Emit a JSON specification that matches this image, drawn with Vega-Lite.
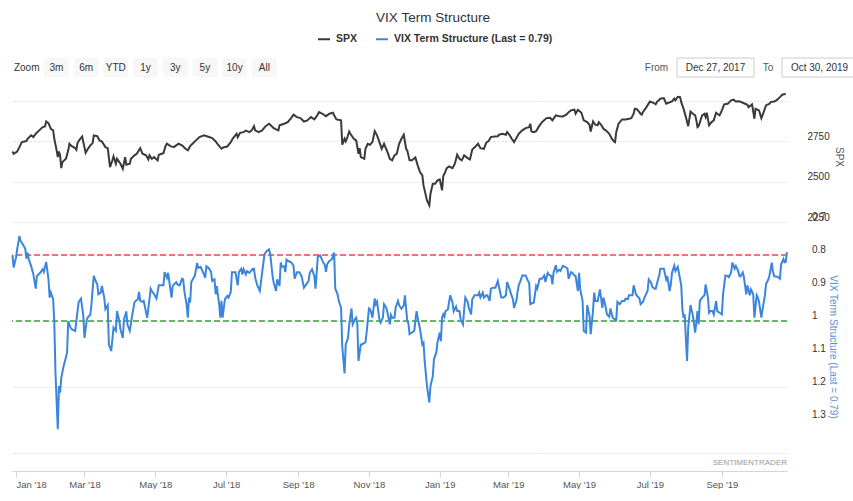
{
"$schema": "https://vega.github.io/schema/vega-lite/v6.json",
"background": "white",
"padding": {"left": 8, "top": 10, "right": 0, "bottom": 0},
"title": {"text": "VIX Term Structure", "fontSize": 13.5, "fontWeight": "normal", "color": "#333333", "anchor": "middle", "offset": 8, "font": "Liberation Sans"},
"config": {
  "font": "Liberation Sans",
  "view": {"stroke": null},
  "axisY": {"orient": "right", "domain": false, "ticks": false, "grid": true, "gridColor": "#dddddd", "gridDash": [2, 2], "labelPadding": 20, "labelAlign": "left", "labelBaseline": "middle", "labelOffset": -5, "labelFontSize": 10, "labelColor": "#333333", "labelOverlap": false, "titleFontSize": 10, "titleFontWeight": "normal", "titlePadding": 4}
},
"datasets": {
"btn": [{"t": "Zoom"}, {"t": "3m"}, {"t": "6m"}, {"t": "YTD"}, {"t": "1y"}, {"t": "3y"}, {"t": "5y"}, {"t": "10y"}, {"t": "All"}],
"vixticks": [{"y": 0.7, "l": "0.7"}, {"y": 0.8, "l": "0.8"}, {"y": 0.9, "l": "0.9"}, {"y": 1.0, "l": "1"}, {"y": 1.1, "l": "1.1"}, {"y": 1.2, "l": "1.2"}, {"y": 1.3, "l": "1.3"}],
"spx": [
{"d":"2017-12-29","v":2687},{"d":"2017-12-30","v":2673},{"d":"2018-01-02","v":2687},{"d":"2018-01-04","v":2714},{"d":"2018-01-06","v":2745},{"d":"2018-01-10","v":2752},{"d":"2018-01-11","v":2766},{"d":"2018-01-14","v":2787},{"d":"2018-01-16","v":2776},{"d":"2018-01-18","v":2797},{"d":"2018-01-21","v":2818},{"d":"2018-01-24","v":2838},{"d":"2018-01-26","v":2842},{"d":"2018-01-27","v":2873},{"d":"2018-01-29","v":2863},{"d":"2018-01-31","v":2828},
{"d":"2018-02-02","v":2818},{"d":"2018-02-03","v":2766},{"d":"2018-02-05","v":2694},{"d":"2018-02-06","v":2652},{"d":"2018-02-07","v":2687},{"d":"2018-02-08","v":2663},{"d":"2018-02-09","v":2584},{"d":"2018-02-10","v":2621},{"d":"2018-02-13","v":2642},{"d":"2018-02-15","v":2694},{"d":"2018-02-16","v":2735},{"d":"2018-02-18","v":2720},{"d":"2018-02-21","v":2708},{"d":"2018-02-22","v":2698},{"d":"2018-02-23","v":2741},{"d":"2018-02-25","v":2762},{"d":"2018-02-27","v":2780},{"d":"2018-02-28","v":2745},
{"d":"2018-03-02","v":2679},{"d":"2018-03-04","v":2704},{"d":"2018-03-06","v":2725},{"d":"2018-03-08","v":2739},{"d":"2018-03-09","v":2787},{"d":"2018-03-12","v":2782},{"d":"2018-03-14","v":2756},{"d":"2018-03-16","v":2749},{"d":"2018-03-19","v":2714},{"d":"2018-03-21","v":2708},{"d":"2018-03-23","v":2590},{"d":"2018-03-25","v":2632},{"d":"2018-03-26","v":2656},{"d":"2018-03-28","v":2611},{"d":"2018-03-29","v":2642},{"d":"2018-03-31","v":2621},
{"d":"2018-04-01","v":2611},{"d":"2018-04-03","v":2580},{"d":"2018-04-05","v":2652},{"d":"2018-04-06","v":2605},{"d":"2018-04-09","v":2611},{"d":"2018-04-10","v":2642},{"d":"2018-04-13","v":2663},{"d":"2018-04-15","v":2673},{"d":"2018-04-18","v":2708},{"d":"2018-04-20","v":2673},{"d":"2018-04-23","v":2663},{"d":"2018-04-25","v":2638},{"d":"2018-04-26","v":2663},{"d":"2018-04-28","v":2642},{"d":"2018-04-30","v":2652},
{"d":"2018-05-03","v":2632},{"d":"2018-05-04","v":2667},{"d":"2018-05-08","v":2677},{"d":"2018-05-10","v":2725},{"d":"2018-05-11","v":2735},{"d":"2018-05-14","v":2720},{"d":"2018-05-17","v":2714},{"d":"2018-05-19","v":2725},{"d":"2018-05-21","v":2735},{"d":"2018-05-24","v":2725},{"d":"2018-05-27","v":2704},{"d":"2018-05-29","v":2694},{"d":"2018-05-31","v":2720},
{"d":"2018-06-02","v":2735},{"d":"2018-06-05","v":2756},{"d":"2018-06-08","v":2776},{"d":"2018-06-12","v":2787},{"d":"2018-06-15","v":2780},{"d":"2018-06-19","v":2770},{"d":"2018-06-22","v":2749},{"d":"2018-06-24","v":2729},{"d":"2018-06-27","v":2704},{"d":"2018-06-29","v":2714},
{"d":"2018-07-02","v":2718},{"d":"2018-07-05","v":2745},{"d":"2018-07-07","v":2770},{"d":"2018-07-10","v":2797},{"d":"2018-07-11","v":2776},{"d":"2018-07-13","v":2803},{"d":"2018-07-16","v":2807},{"d":"2018-07-18","v":2816},{"d":"2018-07-21","v":2807},{"d":"2018-07-23","v":2818},{"d":"2018-07-25","v":2844},{"d":"2018-07-26","v":2818},{"d":"2018-07-29","v":2807},
{"d":"2018-08-01","v":2818},{"d":"2018-08-04","v":2844},{"d":"2018-08-07","v":2859},{"d":"2018-08-08","v":2853},{"d":"2018-08-11","v":2832},{"d":"2018-08-13","v":2824},{"d":"2018-08-15","v":2818},{"d":"2018-08-16","v":2849},{"d":"2018-08-20","v":2859},{"d":"2018-08-23","v":2869},{"d":"2018-08-26","v":2894},{"d":"2018-08-28","v":2915},{"d":"2018-08-31","v":2900},
{"d":"2018-09-03","v":2894},{"d":"2018-09-06","v":2873},{"d":"2018-09-09","v":2880},{"d":"2018-09-12","v":2900},{"d":"2018-09-15","v":2886},{"d":"2018-09-17","v":2906},{"d":"2018-09-19","v":2931},{"d":"2018-09-22","v":2921},{"d":"2018-09-25","v":2906},{"d":"2018-09-28","v":2921},
{"d":"2018-10-01","v":2927},{"d":"2018-10-02","v":2911},{"d":"2018-10-04","v":2886},{"d":"2018-10-08","v":2880},{"d":"2018-10-09","v":2729},{"d":"2018-10-11","v":2766},{"d":"2018-10-12","v":2749},{"d":"2018-10-13","v":2766},{"d":"2018-10-15","v":2811},{"d":"2018-10-16","v":2797},{"d":"2018-10-19","v":2766},{"d":"2018-10-21","v":2756},{"d":"2018-10-23","v":2673},{"d":"2018-10-24","v":2708},{"d":"2018-10-25","v":2652},{"d":"2018-10-28","v":2642},{"d":"2018-10-29","v":2704},{"d":"2018-10-31","v":2735},
{"d":"2018-11-02","v":2729},{"d":"2018-11-04","v":2745},{"d":"2018-11-06","v":2813},{"d":"2018-11-08","v":2787},{"d":"2018-11-10","v":2745},{"d":"2018-11-12","v":2704},{"d":"2018-11-14","v":2735},{"d":"2018-11-17","v":2683},{"d":"2018-11-19","v":2642},{"d":"2018-11-21","v":2632},{"d":"2018-11-23","v":2663},{"d":"2018-11-25","v":2673},{"d":"2018-11-27","v":2735},{"d":"2018-11-29","v":2766},
{"d":"2018-12-01","v":2791},{"d":"2018-12-03","v":2704},{"d":"2018-12-04","v":2694},{"d":"2018-12-06","v":2632},{"d":"2018-12-08","v":2632},{"d":"2018-12-11","v":2650},{"d":"2018-12-13","v":2601},{"d":"2018-12-15","v":2559},{"d":"2018-12-17","v":2539},{"d":"2018-12-18","v":2477},{"d":"2018-12-20","v":2415},{"d":"2018-12-21","v":2384},{"d":"2018-12-23","v":2353},{"d":"2018-12-24","v":2425},{"d":"2018-12-26","v":2487},{"d":"2018-12-28","v":2487},{"d":"2018-12-30","v":2508},
{"d":"2019-01-01","v":2514},{"d":"2019-01-03","v":2446},{"d":"2019-01-04","v":2534},{"d":"2019-01-05","v":2549},{"d":"2019-01-07","v":2584},{"d":"2019-01-09","v":2594},{"d":"2019-01-12","v":2584},{"d":"2019-01-14","v":2611},{"d":"2019-01-16","v":2667},{"d":"2019-01-18","v":2642},{"d":"2019-01-20","v":2632},{"d":"2019-01-22","v":2663},{"d":"2019-01-25","v":2646},{"d":"2019-01-27","v":2638},{"d":"2019-01-29","v":2700},
{"d":"2019-02-01","v":2720},{"d":"2019-02-03","v":2735},{"d":"2019-02-05","v":2708},{"d":"2019-02-08","v":2704},{"d":"2019-02-10","v":2741},{"d":"2019-02-12","v":2751},{"d":"2019-02-14","v":2776},{"d":"2019-02-17","v":2780},{"d":"2019-02-20","v":2782},{"d":"2019-02-21","v":2791},{"d":"2019-02-24","v":2797},{"d":"2019-02-27","v":2791},{"d":"2019-02-28","v":2807},
{"d":"2019-03-02","v":2791},{"d":"2019-03-04","v":2766},{"d":"2019-03-06","v":2745},{"d":"2019-03-08","v":2770},{"d":"2019-03-10","v":2797},{"d":"2019-03-13","v":2818},{"d":"2019-03-16","v":2832},{"d":"2019-03-19","v":2838},{"d":"2019-03-20","v":2859},{"d":"2019-03-21","v":2811},{"d":"2019-03-23","v":2807},{"d":"2019-03-25","v":2813},{"d":"2019-03-27","v":2838},{"d":"2019-03-30","v":2869},
{"d":"2019-04-03","v":2894},{"d":"2019-04-06","v":2896},{"d":"2019-04-08","v":2880},{"d":"2019-04-11","v":2911},{"d":"2019-04-14","v":2906},{"d":"2019-04-17","v":2904},{"d":"2019-04-20","v":2915},{"d":"2019-04-22","v":2931},{"d":"2019-04-24","v":2942},{"d":"2019-04-27","v":2946},{"d":"2019-04-28","v":2921},{"d":"2019-04-30","v":2946},
{"d":"2019-05-03","v":2927},{"d":"2019-05-05","v":2880},{"d":"2019-05-08","v":2869},{"d":"2019-05-10","v":2853},{"d":"2019-05-11","v":2811},{"d":"2019-05-13","v":2873},{"d":"2019-05-15","v":2853},{"d":"2019-05-17","v":2849},{"d":"2019-05-18","v":2869},{"d":"2019-05-20","v":2853},{"d":"2019-05-22","v":2828},{"d":"2019-05-24","v":2818},{"d":"2019-05-27","v":2797},{"d":"2019-05-29","v":2770},{"d":"2019-05-31","v":2749},
{"d":"2019-06-01","v":2745},{"d":"2019-06-02","v":2807},{"d":"2019-06-04","v":2859},{"d":"2019-06-07","v":2886},{"d":"2019-06-10","v":2886},{"d":"2019-06-13","v":2890},{"d":"2019-06-15","v":2894},{"d":"2019-06-17","v":2921},{"d":"2019-06-18","v":2952},{"d":"2019-06-20","v":2948},{"d":"2019-06-23","v":2921},{"d":"2019-06-24","v":2915},{"d":"2019-06-25","v":2931},{"d":"2019-06-28","v":2962},
{"d":"2019-07-01","v":2997},{"d":"2019-07-04","v":2989},{"d":"2019-07-06","v":2979},{"d":"2019-07-07","v":2993},{"d":"2019-07-10","v":3014},{"d":"2019-07-13","v":3018},{"d":"2019-07-15","v":2983},{"d":"2019-07-17","v":2989},{"d":"2019-07-20","v":2997},{"d":"2019-07-22","v":3014},{"d":"2019-07-23","v":3004},{"d":"2019-07-25","v":3026},{"d":"2019-07-27","v":3024},{"d":"2019-07-28","v":2993},{"d":"2019-07-30","v":2952},
{"d":"2019-08-01","v":2900},{"d":"2019-08-03","v":2844},{"d":"2019-08-05","v":2935},{"d":"2019-08-07","v":2921},{"d":"2019-08-09","v":2911},{"d":"2019-08-10","v":2880},{"d":"2019-08-11","v":2838},{"d":"2019-08-12","v":2844},{"d":"2019-08-14","v":2890},{"d":"2019-08-15","v":2911},{"d":"2019-08-17","v":2921},{"d":"2019-08-18","v":2900},{"d":"2019-08-19","v":2927},{"d":"2019-08-21","v":2849},{"d":"2019-08-23","v":2869},{"d":"2019-08-25","v":2880},{"d":"2019-08-27","v":2927},{"d":"2019-08-28","v":2921},{"d":"2019-08-30","v":2911},
{"d":"2019-09-01","v":2942},{"d":"2019-09-03","v":2979},{"d":"2019-09-06","v":2983},{"d":"2019-09-09","v":3004},{"d":"2019-09-11","v":3008},{"d":"2019-09-13","v":2997},{"d":"2019-09-16","v":2999},{"d":"2019-09-19","v":2989},{"d":"2019-09-21","v":2983},{"d":"2019-09-23","v":2977},{"d":"2019-09-24","v":2962},{"d":"2019-09-27","v":2979},{"d":"2019-09-29","v":2890},{"d":"2019-09-30","v":2952},
{"d":"2019-10-03","v":2942},{"d":"2019-10-05","v":2894},{"d":"2019-10-07","v":2931},{"d":"2019-10-09","v":2973},{"d":"2019-10-12","v":2983},{"d":"2019-10-13","v":2993},{"d":"2019-10-16","v":2997},{"d":"2019-10-18","v":3004},{"d":"2019-10-21","v":3024},{"d":"2019-10-23","v":3039},{"d":"2019-10-26","v":3045}
],
"vix": [
{"d":"2017-12-29","v":0.801},{"d":"2017-12-30","v":0.838},{"d":"2018-01-01","v":0.808},{"d":"2018-01-02","v":0.783},{"d":"2018-01-04","v":0.742},{"d":"2018-01-05","v":0.758},{"d":"2018-01-07","v":0.768},{"d":"2018-01-09","v":0.781},{"d":"2018-01-10","v":0.811},{"d":"2018-01-11","v":0.793},{"d":"2018-01-12","v":0.813},{"d":"2018-01-14","v":0.833},{"d":"2018-01-16","v":0.859},{"d":"2018-01-18","v":0.902},{"d":"2018-01-19","v":0.864},{"d":"2018-01-22","v":0.853},{"d":"2018-01-24","v":0.843},{"d":"2018-01-25","v":0.851},{"d":"2018-01-27","v":0.821},{"d":"2018-01-29","v":0.874},{"d":"2018-01-30","v":0.929},{"d":"2018-01-31","v":0.914},
{"d":"2018-02-02","v":0.934},{"d":"2018-02-03","v":1.005},{"d":"2018-02-04","v":1.156},{"d":"2018-02-06","v":1.328},{"d":"2018-02-07","v":1.197},{"d":"2018-02-08","v":1.217},{"d":"2018-02-09","v":1.172},{"d":"2018-02-11","v":1.137},{"d":"2018-02-14","v":1.096},{"d":"2018-02-15","v":1.0},{"d":"2018-02-17","v":1.02},{"d":"2018-02-18","v":1.025},{"d":"2018-02-21","v":1.03},{"d":"2018-02-23","v":0.97},{"d":"2018-02-24","v":0.942},{"d":"2018-02-26","v":0.932},{"d":"2018-02-28","v":0.985},
{"d":"2018-03-01","v":1.051},{"d":"2018-03-03","v":0.996},{"d":"2018-03-04","v":0.988},{"d":"2018-03-06","v":0.981},{"d":"2018-03-07","v":0.949},{"d":"2018-03-08","v":0.904},{"d":"2018-03-09","v":0.863},{"d":"2018-03-11","v":0.882},{"d":"2018-03-12","v":0.889},{"d":"2018-03-13","v":0.919},{"d":"2018-03-15","v":0.914},{"d":"2018-03-16","v":0.894},{"d":"2018-03-18","v":0.929},{"d":"2018-03-19","v":0.964},{"d":"2018-03-21","v":0.952},{"d":"2018-03-22","v":1.071},{"d":"2018-03-24","v":1.091},{"d":"2018-03-25","v":1.056},{"d":"2018-03-26","v":1.02},{"d":"2018-03-28","v":1.03},{"d":"2018-03-29","v":0.97},{"d":"2018-03-31","v":1.0},
{"d":"2018-04-01","v":1.025},{"d":"2018-04-03","v":1.051},{"d":"2018-04-04","v":0.996},{"d":"2018-04-06","v":0.971},{"d":"2018-04-07","v":1.011},{"d":"2018-04-09","v":1.03},{"d":"2018-04-11","v":0.985},{"d":"2018-04-13","v":0.944},{"d":"2018-04-14","v":0.939},{"d":"2018-04-16","v":0.934},{"d":"2018-04-17","v":0.912},{"d":"2018-04-18","v":0.939},{"d":"2018-04-20","v":0.942},{"d":"2018-04-21","v":0.939},{"d":"2018-04-24","v":0.99},{"d":"2018-04-26","v":0.934},{"d":"2018-04-27","v":0.902},{"d":"2018-04-28","v":0.909},{"d":"2018-04-30","v":0.919},
{"d":"2018-05-02","v":0.932},{"d":"2018-05-04","v":0.892},{"d":"2018-05-06","v":0.892},{"d":"2018-05-08","v":0.892},{"d":"2018-05-09","v":0.852},{"d":"2018-05-11","v":0.869},{"d":"2018-05-12","v":0.854},{"d":"2018-05-13","v":0.879},{"d":"2018-05-15","v":0.929},{"d":"2018-05-16","v":0.894},{"d":"2018-05-17","v":0.889},{"d":"2018-05-19","v":0.882},{"d":"2018-05-20","v":0.889},{"d":"2018-05-22","v":0.892},{"d":"2018-05-24","v":0.872},{"d":"2018-05-25","v":0.874},{"d":"2018-05-26","v":0.909},{"d":"2018-05-28","v":0.952},{"d":"2018-05-29","v":0.99},{"d":"2018-05-30","v":0.929},{"d":"2018-05-31","v":0.944},
{"d":"2018-06-01","v":0.882},{"d":"2018-06-03","v":0.869},{"d":"2018-06-04","v":0.864},{"d":"2018-06-06","v":0.824},{"d":"2018-06-07","v":0.839},{"d":"2018-06-09","v":0.836},{"d":"2018-06-11","v":0.851},{"d":"2018-06-13","v":0.869},{"d":"2018-06-14","v":0.834},{"d":"2018-06-16","v":0.839},{"d":"2018-06-18","v":0.851},{"d":"2018-06-19","v":0.879},{"d":"2018-06-21","v":0.874},{"d":"2018-06-22","v":0.919},{"d":"2018-06-23","v":0.894},{"d":"2018-06-24","v":0.924},{"d":"2018-06-25","v":0.949},{"d":"2018-06-26","v":0.99},{"d":"2018-06-27","v":0.939},{"d":"2018-06-28","v":0.99},{"d":"2018-06-29","v":0.96},{"d":"2018-06-30","v":0.934},
{"d":"2018-07-02","v":0.924},{"d":"2018-07-03","v":0.929},{"d":"2018-07-05","v":0.912},{"d":"2018-07-06","v":0.852},{"d":"2018-07-09","v":0.852},{"d":"2018-07-11","v":0.892},{"d":"2018-07-12","v":0.852},{"d":"2018-07-14","v":0.842},{"d":"2018-07-15","v":0.859},{"d":"2018-07-16","v":0.843},{"d":"2018-07-18","v":0.859},{"d":"2018-07-19","v":0.849},{"d":"2018-07-21","v":0.854},{"d":"2018-07-24","v":0.842},{"d":"2018-07-25","v":0.842},{"d":"2018-07-26","v":0.869},{"d":"2018-07-28","v":0.894},{"d":"2018-07-30","v":0.909},
{"d":"2018-08-01","v":0.854},{"d":"2018-08-03","v":0.798},{"d":"2018-08-05","v":0.788},{"d":"2018-08-07","v":0.783},{"d":"2018-08-08","v":0.798},{"d":"2018-08-10","v":0.864},{"d":"2018-08-11","v":0.884},{"d":"2018-08-13","v":0.909},{"d":"2018-08-14","v":0.874},{"d":"2018-08-16","v":0.894},{"d":"2018-08-17","v":0.823},{"d":"2018-08-18","v":0.836},{"d":"2018-08-20","v":0.834},{"d":"2018-08-21","v":0.852},{"d":"2018-08-22","v":0.814},{"d":"2018-08-24","v":0.819},{"d":"2018-08-26","v":0.822},{"d":"2018-08-28","v":0.832},{"d":"2018-08-29","v":0.872},{"d":"2018-08-31","v":0.852},
{"d":"2018-09-02","v":0.852},{"d":"2018-09-04","v":0.864},{"d":"2018-09-06","v":0.899},{"d":"2018-09-08","v":0.889},{"d":"2018-09-10","v":0.879},{"d":"2018-09-11","v":0.854},{"d":"2018-09-13","v":0.843},{"d":"2018-09-15","v":0.864},{"d":"2018-09-16","v":0.902},{"d":"2018-09-18","v":0.803},{"d":"2018-09-20","v":0.801},{"d":"2018-09-22","v":0.818},{"d":"2018-09-24","v":0.831},{"d":"2018-09-25","v":0.851},{"d":"2018-09-26","v":0.828},{"d":"2018-09-28","v":0.818},{"d":"2018-09-30","v":0.813},
{"d":"2018-10-02","v":0.793},{"d":"2018-10-03","v":0.902},{"d":"2018-10-05","v":0.919},{"d":"2018-10-06","v":0.939},{"d":"2018-10-08","v":0.96},{"d":"2018-10-09","v":1.076},{"d":"2018-10-11","v":1.159},{"d":"2018-10-12","v":1.071},{"d":"2018-10-14","v":1.051},{"d":"2018-10-15","v":1.01},{"d":"2018-10-17","v":0.962},{"d":"2018-10-18","v":1.01},{"d":"2018-10-20","v":0.995},{"d":"2018-10-21","v":0.99},{"d":"2018-10-22","v":1.01},{"d":"2018-10-23","v":1.121},{"d":"2018-10-25","v":1.071},{"d":"2018-10-26","v":1.071},{"d":"2018-10-29","v":1.064},{"d":"2018-10-30","v":1.035},
{"d":"2018-11-01","v":0.962},{"d":"2018-11-02","v":0.965},{"d":"2018-11-03","v":0.975},{"d":"2018-11-04","v":0.99},{"d":"2018-11-06","v":0.932},{"d":"2018-11-07","v":0.949},{"d":"2018-11-08","v":0.942},{"d":"2018-11-10","v":0.995},{"d":"2018-11-11","v":1.005},{"d":"2018-11-13","v":0.99},{"d":"2018-11-14","v":0.949},{"d":"2018-11-16","v":0.96},{"d":"2018-11-17","v":0.975},{"d":"2018-11-19","v":1.01},{"d":"2018-11-20","v":0.982},{"d":"2018-11-21","v":0.99},{"d":"2018-11-23","v":0.99},{"d":"2018-11-24","v":0.96},{"d":"2018-11-26","v":0.939},{"d":"2018-11-27","v":0.952},{"d":"2018-11-29","v":0.963},
{"d":"2018-12-01","v":0.953},{"d":"2018-12-02","v":0.922},{"d":"2018-12-04","v":1.0},{"d":"2018-12-05","v":1.007},{"d":"2018-12-06","v":1.04},{"d":"2018-12-08","v":1.035},{"d":"2018-12-10","v":1.03},{"d":"2018-12-12","v":0.97},{"d":"2018-12-13","v":0.99},{"d":"2018-12-15","v":1.025},{"d":"2018-12-17","v":1.071},{"d":"2018-12-18","v":1.066},{"d":"2018-12-19","v":1.121},{"d":"2018-12-21","v":1.197},{"d":"2018-12-23","v":1.247},{"d":"2018-12-24","v":1.197},{"d":"2018-12-26","v":1.167},{"d":"2018-12-27","v":1.116},{"d":"2018-12-29","v":1.096},{"d":"2018-12-30","v":1.066},
{"d":"2019-01-01","v":1.035},{"d":"2019-01-02","v":1.061},{"d":"2019-01-03","v":0.99},{"d":"2019-01-04","v":0.98},{"d":"2019-01-05","v":0.987},{"d":"2019-01-06","v":0.97},{"d":"2019-01-08","v":0.965},{"d":"2019-01-10","v":0.922},{"d":"2019-01-12","v":0.944},{"d":"2019-01-13","v":0.97},{"d":"2019-01-15","v":0.956},{"d":"2019-01-16","v":0.97},{"d":"2019-01-18","v":0.97},{"d":"2019-01-19","v":0.995},{"d":"2019-01-21","v":1.01},{"d":"2019-01-22","v":0.965},{"d":"2019-01-23","v":0.929},{"d":"2019-01-25","v":0.942},{"d":"2019-01-26","v":0.96},{"d":"2019-01-28","v":0.98},{"d":"2019-01-29","v":0.934},{"d":"2019-01-31","v":0.922},
{"d":"2019-02-01","v":0.922},{"d":"2019-02-03","v":0.922},{"d":"2019-02-04","v":0.914},{"d":"2019-02-05","v":0.929},{"d":"2019-02-07","v":0.914},{"d":"2019-02-08","v":0.929},{"d":"2019-02-10","v":0.922},{"d":"2019-02-11","v":0.922},{"d":"2019-02-13","v":0.939},{"d":"2019-02-14","v":0.902},{"d":"2019-02-16","v":0.899},{"d":"2019-02-18","v":0.899},{"d":"2019-02-20","v":0.879},{"d":"2019-02-21","v":0.896},{"d":"2019-02-23","v":0.929},{"d":"2019-02-25","v":0.929},{"d":"2019-02-27","v":0.922},{"d":"2019-02-28","v":0.882},
{"d":"2019-03-02","v":0.902},{"d":"2019-03-03","v":0.914},{"d":"2019-03-05","v":0.934},{"d":"2019-03-06","v":0.96},{"d":"2019-03-08","v":0.939},{"d":"2019-03-09","v":0.912},{"d":"2019-03-10","v":0.892},{"d":"2019-03-12","v":0.874},{"d":"2019-03-13","v":0.862},{"d":"2019-03-16","v":0.862},{"d":"2019-03-18","v":0.879},{"d":"2019-03-19","v":0.884},{"d":"2019-03-20","v":0.949},{"d":"2019-03-23","v":0.944},{"d":"2019-03-25","v":0.894},{"d":"2019-03-26","v":0.902},{"d":"2019-03-28","v":0.872},{"d":"2019-03-30","v":0.872},
{"d":"2019-04-01","v":0.862},{"d":"2019-04-02","v":0.882},{"d":"2019-04-04","v":0.854},{"d":"2019-04-05","v":0.859},{"d":"2019-04-07","v":0.864},{"d":"2019-04-08","v":0.889},{"d":"2019-04-09","v":0.854},{"d":"2019-04-11","v":0.831},{"d":"2019-04-12","v":0.851},{"d":"2019-04-14","v":0.845},{"d":"2019-04-15","v":0.848},{"d":"2019-04-17","v":0.833},{"d":"2019-04-20","v":0.838},{"d":"2019-04-21","v":0.841},{"d":"2019-04-22","v":0.872},{"d":"2019-04-24","v":0.852},{"d":"2019-04-25","v":0.854},{"d":"2019-04-27","v":0.862},{"d":"2019-04-28","v":0.864},{"d":"2019-04-30","v":0.909},
{"d":"2019-05-01","v":0.854},{"d":"2019-05-02","v":0.904},{"d":"2019-05-04","v":0.939},{"d":"2019-05-05","v":1.03},{"d":"2019-05-07","v":1.035},{"d":"2019-05-08","v":0.952},{"d":"2019-05-10","v":0.985},{"d":"2019-05-11","v":1.04},{"d":"2019-05-13","v":0.969},{"d":"2019-05-14","v":0.914},{"d":"2019-05-15","v":0.939},{"d":"2019-05-17","v":0.939},{"d":"2019-05-19","v":0.904},{"d":"2019-05-21","v":0.96},{"d":"2019-05-22","v":0.929},{"d":"2019-05-24","v":0.96},{"d":"2019-05-25","v":0.98},{"d":"2019-05-27","v":0.987},{"d":"2019-05-28","v":0.962},{"d":"2019-05-30","v":0.99},{"d":"2019-05-31","v":0.993},
{"d":"2019-06-02","v":0.997},{"d":"2019-06-03","v":0.942},{"d":"2019-06-05","v":0.949},{"d":"2019-06-06","v":0.944},{"d":"2019-06-07","v":0.939},{"d":"2019-06-09","v":0.939},{"d":"2019-06-10","v":0.932},{"d":"2019-06-12","v":0.934},{"d":"2019-06-13","v":0.922},{"d":"2019-06-14","v":0.922},{"d":"2019-06-16","v":0.922},{"d":"2019-06-17","v":0.892},{"d":"2019-06-19","v":0.919},{"d":"2019-06-20","v":0.924},{"d":"2019-06-22","v":0.932},{"d":"2019-06-23","v":0.949},{"d":"2019-06-25","v":0.942},{"d":"2019-06-26","v":0.932},{"d":"2019-06-27","v":0.924},{"d":"2019-06-29","v":0.909},{"d":"2019-06-30","v":0.874},
{"d":"2019-07-02","v":0.884},{"d":"2019-07-03","v":0.896},{"d":"2019-07-05","v":0.902},{"d":"2019-07-06","v":0.902},{"d":"2019-07-08","v":0.874},{"d":"2019-07-09","v":0.862},{"d":"2019-07-10","v":0.842},{"d":"2019-07-13","v":0.842},{"d":"2019-07-15","v":0.874},{"d":"2019-07-16","v":0.864},{"d":"2019-07-18","v":0.909},{"d":"2019-07-19","v":0.889},{"d":"2019-07-20","v":0.854},{"d":"2019-07-22","v":0.832},{"d":"2019-07-23","v":0.849},{"d":"2019-07-25","v":0.836},{"d":"2019-07-26","v":0.854},{"d":"2019-07-28","v":0.892},{"d":"2019-07-29","v":0.965},{"d":"2019-07-30","v":0.99},{"d":"2019-07-31","v":0.98},
{"d":"2019-08-01","v":1.056},{"d":"2019-08-02","v":1.121},{"d":"2019-08-03","v":1.02},{"d":"2019-08-05","v":0.952},{"d":"2019-08-07","v":0.983},{"d":"2019-08-08","v":1.01},{"d":"2019-08-09","v":1.035},{"d":"2019-08-11","v":0.97},{"d":"2019-08-12","v":1.01},{"d":"2019-08-13","v":0.939},{"d":"2019-08-15","v":0.929},{"d":"2019-08-17","v":0.922},{"d":"2019-08-18","v":0.889},{"d":"2019-08-20","v":0.929},{"d":"2019-08-21","v":0.975},{"d":"2019-08-22","v":0.97},{"d":"2019-08-24","v":0.97},{"d":"2019-08-25","v":0.98},{"d":"2019-08-27","v":0.94},{"d":"2019-08-28","v":0.97},{"d":"2019-08-30","v":0.975},
{"d":"2019-09-01","v":0.98},{"d":"2019-09-02","v":0.919},{"d":"2019-09-04","v":0.862},{"d":"2019-09-06","v":0.864},{"d":"2019-09-07","v":0.867},{"d":"2019-09-09","v":0.852},{"d":"2019-09-10","v":0.823},{"d":"2019-09-12","v":0.841},{"d":"2019-09-13","v":0.833},{"d":"2019-09-15","v":0.848},{"d":"2019-09-16","v":0.863},{"d":"2019-09-17","v":0.865},{"d":"2019-09-19","v":0.853},{"d":"2019-09-20","v":0.868},{"d":"2019-09-22","v":0.919},{"d":"2019-09-23","v":0.892},{"d":"2019-09-25","v":0.922},{"d":"2019-09-26","v":0.904},{"d":"2019-09-28","v":0.919},{"d":"2019-09-29","v":0.99},
{"d":"2019-10-01","v":0.922},{"d":"2019-10-02","v":0.929},{"d":"2019-10-03","v":0.942},{"d":"2019-10-05","v":0.99},{"d":"2019-10-06","v":0.965},{"d":"2019-10-08","v":0.924},{"d":"2019-10-09","v":0.889},{"d":"2019-10-11","v":0.874},{"d":"2019-10-12","v":0.862},{"d":"2019-10-14","v":0.823},{"d":"2019-10-15","v":0.851},{"d":"2019-10-16","v":0.864},{"d":"2019-10-18","v":0.866},{"d":"2019-10-19","v":0.866},{"d":"2019-10-21","v":0.872},{"d":"2019-10-22","v":0.829},{"d":"2019-10-24","v":0.812},{"d":"2019-10-25","v":0.822},{"d":"2019-10-26","v":0.821},{"d":"2019-10-27","v":0.791}
]
},
"spacing": 11,
"vconcat": [
  {"hconcat": [
    {"width": 267, "height": 19, "data": {"name": "btn"},
     "layer": [
      {"mark": {"type": "rect", "fill": "#f7f7f7", "cornerRadius": 2},
       "encoding": {
         "x": {"field": "t", "type": "nominal", "axis": null, "scale": {"domain": ["Zoom", "3m", "6m", "YTD", "1y", "3y", "5y", "10y", "All"], "paddingInner": 0.17, "paddingOuter": 0.08}},
         "opacity": {"condition": {"test": "datum.t === 'Zoom'", "value": 0}, "value": 1}}},
      {"mark": {"type": "text", "fontSize": 10, "color": "#333333"},
       "encoding": {
         "x": {"field": "t", "type": "nominal", "axis": null},
         "text": {"field": "t"}}}
     ]},
    {"hconcat": [
      {"width": 25, "height": 19, "data": {"values": [{"t": "From"}]},
       "mark": {"type": "text", "fontSize": 10, "color": "#555555"},
       "encoding": {"text": {"field": "t"}}},
      {"width": 77, "height": 19, "data": {"values": [{"t": "Dec 27, 2017"}]},
       "layer": [
        {"mark": {"type": "rect", "fill": "white", "stroke": "#cccccc", "strokeWidth": 1}, "encoding": {}},
        {"mark": {"type": "text", "fontSize": 10, "color": "#333333"}, "encoding": {"text": {"field": "t"}}}
       ]},
      {"width": 12, "height": 19, "data": {"values": [{"t": "To"}]},
       "mark": {"type": "text", "fontSize": 10, "color": "#555555"},
       "encoding": {"text": {"field": "t"}}},
      {"width": 75, "height": 19, "data": {"values": [{"t": "Oct 30, 2019"}]},
       "layer": [
        {"mark": {"type": "rect", "fill": "white", "stroke": "#cccccc", "strokeWidth": 1}, "encoding": {}},
        {"mark": {"type": "text", "fontSize": 10, "color": "#333333"}, "encoding": {"text": {"field": "t"}}}
       ]}
    ], "spacing": 7}
  ], "spacing": 365},
  {"spacing": 0, "bounds": "flush", "vconcat": [
    {"width": 775, "height": 131, "data": {"name": "spx"},
     "mark": {"type": "line", "strokeWidth": 2},
     "encoding": {
       "x": {"field": "d", "type": "temporal", "axis": null,
             "scale": {"type": "utc", "domain": [{"year": 2017, "month": 12, "date": 28, "hours": 13, "minutes": 26, "utc": true}, {"year": 2019, "month": 10, "date": 27, "hours": 2, "utc": true}]}},
       "y": {"field": "v", "type": "quantitative",
             "scale": {"domain": [2250, 3062], "nice": false, "zero": false},
             "axis": {"values": [2250, 2500, 2750, 3000], "labelOverlap": false, "labelExpr": "datum.value == 3000 ? '' : format(datum.value, 'd')", "title": "SPX", "titleColor": "#555555"}},
       "color": {"datum": "SPX", "type": "nominal",
                 "scale": {"domain": ["SPX", "VIX Term Structure (Last = 0.79)"], "range": ["#3a3a3a", "#3b85dc"]},
                 "legend": {"orient": "none", "legendX": 305, "legendY": -26, "direction": "horizontal", "title": null, "symbolType": "stroke", "symbolStrokeWidth": 2, "symbolSize": 144, "labelFontSize": 10.5, "labelFontWeight": "bold", "labelColor": "#333333", "labelLimit": 400, "columnPadding": 14, "labelOffset": 5}}
     }},
    {"width": 775, "height": 249,
     "layer": [
      {"data": {"values": [{"k": "top"}]},
       "mark": {"type": "rule", "color": "#f04848", "strokeWidth": 1.5, "strokeDash": [6, 3]},
       "encoding": {"y": {"datum": 0.8, "type": "quantitative"}}},
      {"data": {"values": [{"k": "bottom"}]},
       "mark": {"type": "rule", "color": "#3f9a3f", "strokeWidth": 1.5, "strokeDash": [6, 3]},
       "encoding": {"y": {"datum": 1.0, "type": "quantitative"}}},
      {"data": {"name": "vix"},
       "mark": {"type": "line", "strokeWidth": 2},
       "encoding": {
         "x": {"field": "d", "type": "temporal",
               "scale": {"type": "utc", "domain": [{"year": 2017, "month": 12, "date": 28, "hours": 13, "minutes": 26, "utc": true}, {"year": 2019, "month": 10, "date": 27, "hours": 2, "utc": true}]},
               "axis": {"title": null, "labelExpr": "utcFormat(datum.value, \"%b '%y\")", "grid": false, "domainColor": "#ccd6eb", "tickColor": "#ccd6eb", "tickSize": 6, "labelPadding": 2, "labelFontSize": 9.5, "labelColor": "#555555", "labelFlush": 10, "labelOverlap": false,
                        "values": [{"year": 2018, "month": 1, "date": 1, "utc": true}, {"year": 2018, "month": 3, "date": 1, "utc": true}, {"year": 2018, "month": 5, "date": 1, "utc": true}, {"year": 2018, "month": 7, "date": 1, "utc": true}, {"year": 2018, "month": 9, "date": 1, "utc": true}, {"year": 2018, "month": 11, "date": 1, "utc": true}, {"year": 2019, "month": 1, "date": 1, "utc": true}, {"year": 2019, "month": 3, "date": 1, "utc": true}, {"year": 2019, "month": 5, "date": 1, "utc": true}, {"year": 2019, "month": 7, "date": 1, "utc": true}, {"year": 2019, "month": 9, "date": 1, "utc": true}]}},
         "y": {"field": "v", "type": "quantitative",
               "scale": {"domain": [1.4545, 0.7], "nice": false, "zero": false},
               "axis": {"values": [0.7, 0.8, 0.9, 1.0, 1.1, 1.2, 1.3, 1.4], "labelExpr": "''", "titlePadding": 20, "title": "VIX Term Structure (Last = 0.79)", "titleColor": "#5b8fd6"}},
         "color": {"datum": "VIX Term Structure (Last = 0.79)", "type": "nominal"}
       }},
      {"data": {"name": "vixticks"},
       "mark": {"type": "text", "align": "left", "baseline": "middle", "dx": 25, "dy": -5, "fontSize": 10, "color": "#333333"},
       "encoding": {
         "x": {"datum": {"year": 2019, "month": 10, "date": 27, "hours": 2, "utc": true}, "type": "temporal"},
         "y": {"field": "y", "type": "quantitative"},
         "text": {"field": "l"}}},
      {"data": {"values": [{"t": "SENTIMENTRADER"}]},
       "mark": {"type": "text", "align": "right", "fontSize": 8, "color": "#999999"},
       "encoding": {
         "x": {"datum": {"year": 2019, "month": 10, "date": 27, "hours": 2, "utc": true}, "type": "temporal"},
         "y": {"datum": 1.43, "type": "quantitative"},
         "text": {"field": "t"}}}
     ]}
  ]}
]
}
